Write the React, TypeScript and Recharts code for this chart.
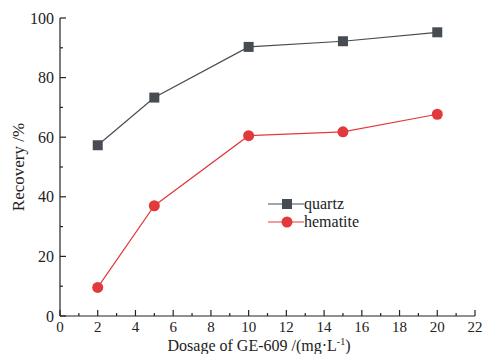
import { LineChart, Line, XAxis, YAxis, Legend } from 'recharts';

const dosage = [2, 5, 10, 15, 20];
const quartz = [57.3, 73.3, 90.3, 92.2, 95.2];
const hematite = [9.6, 37.0, 60.5, 61.8, 67.7];

const xTicks = [0, 1, 2, 3, 4, 5, 6, 7, 8, 9, 10, 11, 12, 13, 14, 15, 16, 17, 18, 19, 20, 21, 22];
const yTicks = [0, 10, 20, 30, 40, 50, 60, 70, 80, 90, 100];

const data = dosage.map((d, i) => ({ dosage: d, quartz: quartz[i], hematite: hematite[i] }));

const FONT = '"Liberation Serif", "Times New Roman", serif';
const AXIS = '#222';
const QUARTZ = '#474c52';
const HEMATITE = '#e23a3c';

const XTick = ({ x, y, payload }: any) => {
  const major = payload.value % 2 === 0;
  return (
    <g>
      <line x1={x} x2={x} y1={y} y2={y - (major ? 6 : 3)} stroke={AXIS} strokeWidth={1.2} />
      {major && (
        <text x={x} y={y + 16} textAnchor="middle" fontSize={15} fontFamily={FONT} fill="#222">
          {payload.value}
        </text>
      )}
    </g>
  );
};

const YTick = ({ x, y, payload }: any) => {
  const major = payload.value % 20 === 0;
  return (
    <g>
      <line x1={x} x2={x + (major ? 6 : 3)} y1={y} y2={y} stroke={AXIS} strokeWidth={1.2} />
      {major && (
        <text x={x - 6} y={y} dy="0.35em" textAnchor="end" fontSize={16} fontFamily={FONT} fill="#222">
          {payload.value}
        </text>
      )}
    </g>
  );
};

const Square = ({ cx, cy }: any) => (
  <rect x={cx - 5} y={cy - 5} width={10} height={10} fill={QUARTZ} />
);

const Circle = ({ cx, cy }: any) => <circle cx={cx} cy={cy} r={5.5} fill={HEMATITE} />;

const renderLegend = () => (
  <div style={{ fontFamily: FONT, fontSize: 16, color: '#222', lineHeight: '18px' }}>
    {[
      { name: 'quartz', color: QUARTZ, shape: 'square' },
      { name: 'hematite', color: HEMATITE, shape: 'circle' },
    ].map((item) => (
      <div key={item.name} style={{ display: 'flex', alignItems: 'center', height: 18 }}>
        <svg width={36} height={12} style={{ marginRight: 0 }}>
          <line x1={0} x2={36} y1={6} y2={6} stroke={item.color} strokeWidth={1.2} />
          {item.shape === 'square' ? (
            <rect x={14} y={1} width={10} height={10} fill={item.color} />
          ) : (
            <circle cx={19} cy={6} r={5.5} fill={item.color} />
          )}
        </svg>
        <span>{item.name}</span>
      </div>
    ))}
  </div>
);

export default function App() {
  return (
    <div style={{ position: 'absolute', left: 0, top: 0, background: '#fff' }}>
      <LineChart width={486} height={354} data={data} margin={{ top: 18, right: 11, bottom: 0, left: 0 }}>
        <XAxis
          dataKey="dosage"
          type="number"
          domain={[0, 22]}
          ticks={xTicks}
          interval={0}
          height={38}
          tickLine={false}
          tickSize={0}
          tickMargin={0}
          tick={<XTick />}
          axisLine={{ stroke: AXIS, strokeWidth: 1.2 }}
          label={({ viewBox }: any) => (
            <text
              x={viewBox.x + 199}
              y={viewBox.y + 34.5}
              textAnchor="middle"
              fontSize={16}
              fontFamily={FONT}
              fill="#222"
            >
              Dosage of GE-609 /(mg·L
              <tspan dy={-6} fontSize={10}>-1</tspan>
              <tspan dy={6}>)</tspan>
            </text>
          )}
        />
        <XAxis xAxisId="top" orientation="top" dataKey="dosage" type="number" domain={[0, 22]} height={0} tick={false} tickLine={false} axisLine={{ stroke: AXIS, strokeWidth: 1.2 }} />
        <YAxis
          type="number"
          domain={[0, 100]}
          ticks={yTicks}
          interval={0}
          width={60}
          tickLine={false}
          tickSize={0}
          tickMargin={0}
          tick={<YTick />}
          axisLine={{ stroke: AXIS, strokeWidth: 1.2 }}
          label={({ viewBox }: any) => {
            const cx = viewBox.x + 18;
            const cy = viewBox.y + viewBox.height / 2;
            return (
              <text
                x={cx}
                y={cy}
                transform={`rotate(-90 ${cx} ${cy})`}
                textAnchor="middle"
                dy="0.35em"
                fontSize={17}
                fontFamily={FONT}
                fill="#222"
              >
                Recovery /%
              </text>
            );
          }}
        />
        <YAxis yAxisId="right" orientation="right" domain={[0, 100]} width={0} tick={false} tickLine={false} axisLine={{ stroke: AXIS, strokeWidth: 1.2 }} />
        <Legend
          layout="vertical"
          align="center"
          verticalAlign="middle"
          content={renderLegend}
          wrapperStyle={{ left: 268, top: 195, width: 130 }}
        />
        <Line dataKey="quartz" stroke={QUARTZ} strokeWidth={1.2} dot={<Square />} isAnimationActive={false} />
        <Line dataKey="hematite" stroke={HEMATITE} strokeWidth={1.2} dot={<Circle />} isAnimationActive={false} />
      </LineChart>
    </div>
  );
}
